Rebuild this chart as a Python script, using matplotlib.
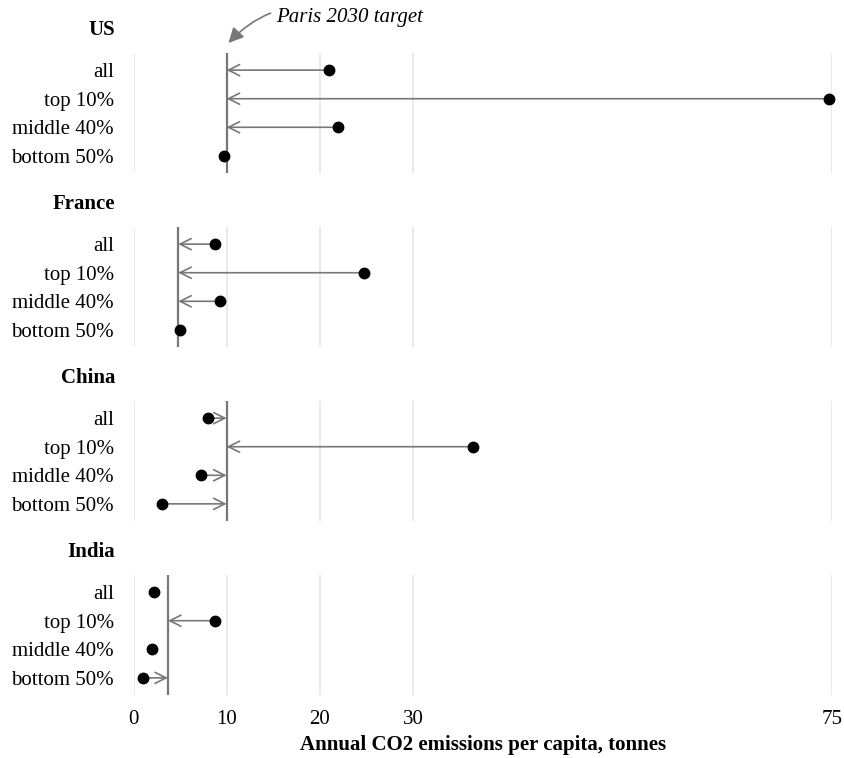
import matplotlib.pyplot as plt

countries = ["US", "France", "China", "India"]
groups = ["all", "top 10%", "middle 40%", "bottom 50%"]
us_values = [21.0, 74.7, 22.0, 9.7]
france_values = [8.7, 24.8, 9.3, 5.0]
china_values = [8.0, 36.4, 7.2, 3.1]
india_values = [2.2, 8.8, 2.0, 1.0]
paris_targets = [10.0, 4.8, 10.0, 3.7]
# which groups get an arrow towards the target
us_arrows = [True, True, True, False]
france_arrows = [True, True, True, False]
china_arrows = [True, True, True, True]
india_arrows = [False, True, False, True]
x_ticks = [0, 10, 20, 30, 75]

values = [us_values, france_values, china_values, india_values]
arrows = [us_arrows, france_arrows, china_arrows, india_arrows]

plt.rcParams["font.family"] = ["Liberation Serif", "DejaVu Serif"]

W, H = 844, 758
fig = plt.figure(figsize=(W / 100, H / 100), dpi=100)

grey = "#777777"
fs = 15
left_px, right_px = 133.5, 832
panel_tops = [53, 227, 401, 575]
panel_h = 120

axes = []
for i, country in enumerate(countries):
    top = panel_tops[i]
    ax = fig.add_axes([left_px / W, 1 - (top + panel_h) / H,
                       (right_px - left_px) / W, panel_h / H])
    axes.append(ax)
    ax.set_xlim(0, 75)
    ax.set_ylim(3.6, -0.6)
    for s in ax.spines.values():
        s.set_visible(False)
    for t in x_ticks:
        ax.axvline(t, color="#e6e6e6", lw=1.2, zorder=0)
    target = paris_targets[i]
    ax.axvline(target, color=grey, lw=1.6, zorder=1)
    for j, v in enumerate(values[i]):
        if arrows[i][j]:
            ax.annotate("", xy=(target, j), xytext=(v, j),
                        arrowprops=dict(arrowstyle="->,head_length=0.8,head_width=0.4",
                                        color=grey, lw=1.2,
                                        shrinkA=0, shrinkB=0),
                        zorder=2)
    ax.plot(values[i], range(len(groups)), "o", color="black",
            markersize=7.5, clip_on=False, zorder=3)
    ax.set_yticks(range(len(groups)))
    ax.set_yticklabels(groups, fontsize=fs)
    ax.tick_params(axis="y", length=0, pad=14)
    ax.text(-0.026, 1.0 + 0.19, country, transform=ax.transAxes,
            ha="right", va="center", fontsize=fs, fontweight="bold")
    if i < len(countries) - 1:
        ax.set_xticks([])
    else:
        ax.set_xticks(x_ticks)
        ax.set_xticklabels([str(t) for t in x_ticks], fontsize=fs)
        ax.tick_params(axis="x", length=0, pad=11)
        ax.set_xlabel("Annual CO2 emissions per capita, tonnes",
                      fontsize=fs, fontweight="bold", labelpad=4)

# Paris target annotation on the first panel
ax0 = axes[0]
ax0.annotate("Paris 2030 target", xy=(10.2, -0.95), xytext=(15.3, -1.85),
             xycoords="data", textcoords="data", annotation_clip=False,
             fontsize=fs, style="italic", ha="left", va="center",
             arrowprops=dict(arrowstyle="-|>,head_length=0.6,head_width=0.3",
                             color=grey, lw=1.2, shrinkA=2, shrinkB=0,
                             connectionstyle="arc3,rad=0.35"))

fig.savefig("out.png", dpi=100)
